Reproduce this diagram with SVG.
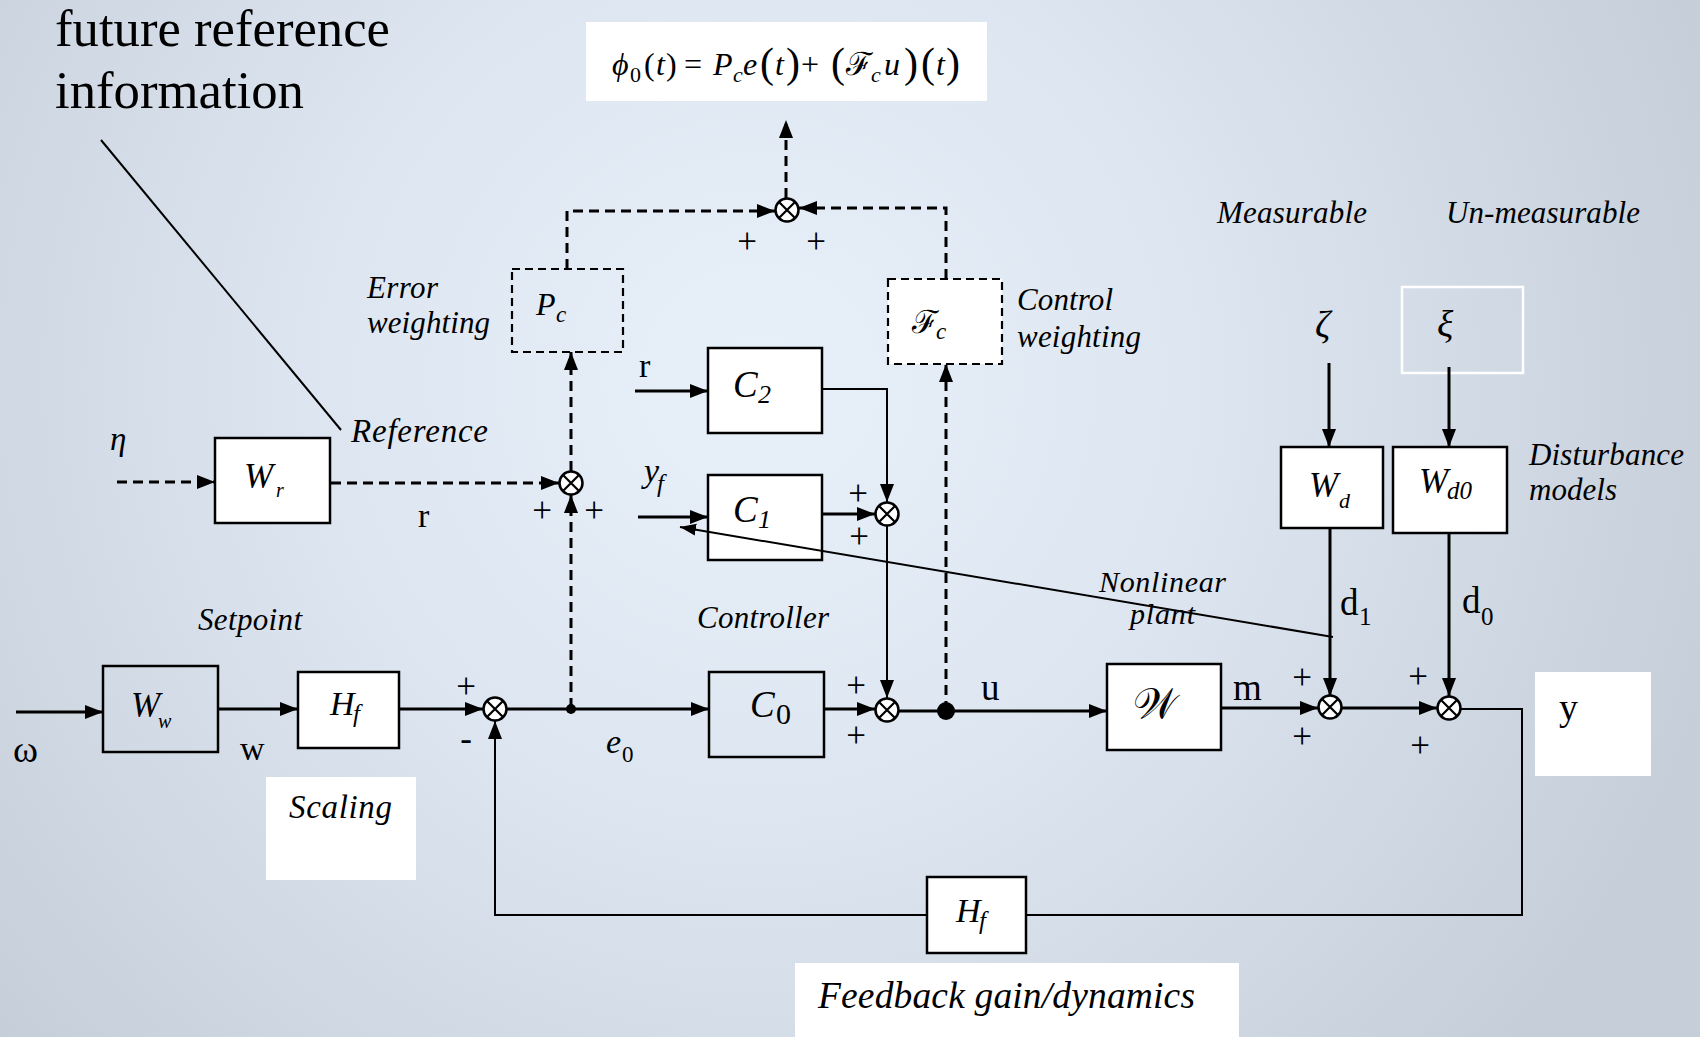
<svg xmlns="http://www.w3.org/2000/svg" xmlns:xlink="http://www.w3.org/1999/xlink" width="1700" height="1037" viewBox="0 0 1700 1037">
  <defs>
    <radialGradient id="bg" gradientUnits="userSpaceOnUse" cx="760" cy="380" r="1000">
      <stop offset="0" stop-color="#e8f0fa"/>
      <stop offset="0.45" stop-color="#dde6f0"/>
      <stop offset="1" stop-color="#c6cfd9"/>
    </radialGradient>
    <marker id="ah" markerUnits="userSpaceOnUse" markerWidth="19" markerHeight="15" refX="18" refY="7" orient="auto">
      <path d="M0,0 L18,7 L0,14 z" fill="#000"/>
    </marker>
    <marker id="ahs" markerUnits="userSpaceOnUse" markerWidth="17" markerHeight="13" refX="16" refY="6" orient="auto">
      <path d="M0,0 L16,6 L0,12 z" fill="#000"/>
    </marker>
    <g id="sumj">
      <circle r="11.5" fill="#fff" stroke="#000" stroke-width="2.5"/>
      <path d="M-8,-8 L8,8 M-8,8 L8,-8" stroke="#000" stroke-width="2.2"/>
    </g>
  </defs>
  <style>
    .t{font-family:"Liberation Serif","Times New Roman",serif;fill:#000}
    .i{font-style:italic}
    .box{fill:#fff;stroke:#000;stroke-width:2.5}
    .box0{fill:none;stroke:#000;stroke-width:2.5}
    .dbox{stroke:#000;stroke-width:2.2;stroke-dasharray:8 5}
    .ln{fill:none;stroke:#000;stroke-width:3}
    .thin{fill:none;stroke:#000;stroke-width:2}
    .dl{fill:none;stroke:#000;stroke-width:3;stroke-dasharray:10 6}
    .sg{font-family:"Liberation Serif","Times New Roman",serif;font-size:35px;text-anchor:middle;fill:#000}
  </style>

  <rect width="1700" height="1037" fill="url(#bg)"/>

  <!-- plain white panels behind some labels -->
  <rect x="586" y="22" width="401" height="79" fill="#fff"/>
  <rect x="266" y="777" width="150" height="103" fill="#fff"/>
  <rect x="1535" y="672" width="116" height="104" fill="#fff"/>
  <rect x="795" y="963" width="444" height="74" fill="#fff"/>
  <rect x="1402" y="287" width="121" height="86" fill="none" stroke="#fff" stroke-width="2.5"/>

  <!-- free-standing labels -->
  <text class="t" x="55" y="46" font-size="52" textLength="335" lengthAdjust="spacingAndGlyphs">future reference</text>
  <text class="t" x="55" y="108" font-size="52" textLength="249" lengthAdjust="spacingAndGlyphs">information</text>

  <g id="formula">
    <text class="t i" font-size="32" x="612" y="75">ϕ</text>
    <text class="t" font-size="22" x="630" y="82">0</text>
    <text class="t" font-size="32" x="644" y="75">(</text>
    <text class="t i" font-size="32" x="656" y="75">t</text>
    <text class="t" font-size="32" x="666" y="75">)</text>
    <text class="t" font-size="32" x="684" y="75">=</text>
    <text class="t i" font-size="32" x="713" y="75">P</text>
    <text class="t i" font-size="22" x="733" y="82">c</text>
    <text class="t i" font-size="32" x="743" y="75">e</text>
    <text class="t" font-size="42" x="760" y="77">(</text>
    <text class="t i" font-size="32" x="775" y="75">t</text>
    <text class="t" font-size="42" x="786" y="77">)</text>
    <text class="t" font-size="32" x="801" y="75">+</text>
    <text class="t" font-size="42" x="831" y="77">(</text>
    <text class="t" font-size="32" x="846" y="75">ℱ</text>
    <text class="t i" font-size="22" x="871" y="82">c</text>
    <text class="t i" font-size="32" x="884" y="75">u</text>
    <text class="t" font-size="42" x="904" y="77">)</text>
    <text class="t" font-size="42" x="921" y="77">(</text>
    <text class="t i" font-size="32" x="936" y="75">t</text>
    <text class="t" font-size="42" x="946" y="77">)</text>
  </g>

  <text class="t i" font-size="31" textLength="71" x="367" y="298">Error</text>
  <text class="t i" font-size="31" textLength="123" x="367" y="333">weighting</text>
  <text class="t i" font-size="31" textLength="96" x="1017" y="310">Control</text>
  <text class="t i" font-size="31" textLength="124" x="1017" y="347">weighting</text>
  <text class="t i" font-size="33" textLength="137" x="351" y="442">Reference</text>
  <text class="t i" font-size="31" textLength="104" x="198" y="630">Setpoint</text>
  <text class="t i" font-size="31" textLength="132" x="697" y="628">Controller</text>
  <text class="t i" font-size="30" textLength="127" x="1099" y="592">Nonlinear</text>
  <text class="t i" font-size="30" textLength="65" x="1130" y="624">plant</text>
  <text class="t i" font-size="31" textLength="150" x="1217" y="223">Measurable</text>
  <text class="t i" font-size="31" textLength="194" x="1446" y="223">Un-measurable</text>
  <text class="t i" font-size="31" textLength="155" x="1529" y="465">Disturbance</text>
  <text class="t i" font-size="31" textLength="88" x="1529" y="500">models</text>
  <text class="t i" font-size="33" textLength="103" x="289" y="818">Scaling</text>
  <text class="t i" font-size="37.5" textLength="377" x="818" y="1008">Feedback gain/dynamics</text>

  <!-- signal names -->
  <text class="t i" font-size="33" x="110" y="450">η</text>
  <text class="t i" font-size="38" x="1315" y="337">ζ</text>
  <text class="t i" font-size="38" x="1437" y="337">ξ</text>
  <text class="t" x="13" y="762" font-size="38">ω</text>
  <text class="t" x="240" y="760" font-size="34">w</text>
  <text class="t" x="418" y="527" font-size="34">r</text>
  <text class="t" x="639" y="377" font-size="34">r</text>
  <text class="t i" font-size="34" x="606" y="753">e</text>
  <text class="t" font-size="23" x="622" y="762">0</text>
  <text class="t i" font-size="34" x="644" y="482">y<tspan x="657" y="492" font-size="25">f</tspan></text>
  <text class="t" x="981" y="700" font-size="37">u</text>
  <text class="t" x="1233" y="700" font-size="37">m</text>
  <text class="t"><tspan x="1340" y="615" font-size="37">d</tspan><tspan x="1359" y="625" font-size="25">1</tspan></text>
  <text class="t"><tspan x="1462" y="613" font-size="37">d</tspan><tspan x="1481" y="625" font-size="25">0</tspan></text>
  <text class="t" x="1559" y="720" font-size="38">y</text>

  <!-- summing-junction signs -->
  <text class="sg" x="747" y="253">+</text>
  <text class="sg" x="816" y="253">+</text>
  <text class="sg" x="542" y="522">+</text>
  <text class="sg" x="594" y="522">+</text>
  <text class="sg" x="466" y="698">+</text>
  <text class="sg" x="466" y="750">-</text>
  <text class="sg" x="858" y="505">+</text>
  <text class="sg" x="859" y="548">+</text>
  <text class="sg" x="856" y="697">+</text>
  <text class="sg" x="856" y="747">+</text>
  <text class="sg" x="1302" y="689">+</text>
  <text class="sg" x="1302" y="748">+</text>
  <text class="sg" x="1418" y="688">+</text>
  <text class="sg" x="1420" y="757">+</text>

  <!-- connectors -->
  <g id="connectors">
    <path class="thin" d="M101,140 L341,430" stroke-width="1.6"/>
    <path class="dl" d="M117,482 H215" marker-end="url(#ah)"/>
    <path class="dl" d="M331,483 H559" marker-end="url(#ah)"/>
    <path class="dl" d="M571,708 V495" marker-end="url(#ah)"/>
    <path class="dl" d="M571,471 V352" marker-end="url(#ah)"/>
    <path class="dl" d="M567,269 V211 H775" marker-end="url(#ah)"/>
    <path class="dl" d="M946,279 V208 H799" marker-end="url(#ah)"/>
    <path class="dl" d="M786,198 V120" marker-end="url(#ah)"/>
    <path class="ln" d="M16,712 H103" marker-end="url(#ah)"/>
    <path class="ln" d="M218,709 H298" marker-end="url(#ah)"/>
    <path class="ln" d="M399,709 H483" marker-end="url(#ah)"/>
    <path class="ln" d="M507,709 H709" marker-end="url(#ah)"/>
    <path class="ln" d="M824,709 H875" marker-end="url(#ah)"/>
    <path class="ln" d="M635,391 H708" marker-end="url(#ah)"/>
    <path class="thin" d="M822,389 H887 V502" marker-end="url(#ah)"/>
    <path class="ln" d="M638,517 H708" marker-end="url(#ah)"/>
    <path class="ln" d="M819,514 H875" marker-end="url(#ah)"/>
    <path class="thin" d="M887,526 V698" stroke-width="2.5" marker-end="url(#ah)"/>
    <path class="ln" d="M899,711 H1107" marker-end="url(#ah)"/>
    <path class="dl" d="M946,711 V364" marker-end="url(#ah)"/>
    <path class="ln" d="M1221,708 H1318" marker-end="url(#ah)"/>
    <path class="ln" d="M1342,708 H1437" marker-end="url(#ah)"/>
    <path class="ln" d="M1330,528 V696" marker-end="url(#ah)"/>
    <path class="ln" d="M1449,533 V696" marker-end="url(#ah)"/>
    <path class="ln" d="M1329,363 V447" marker-end="url(#ah)"/>
    <path class="ln" d="M1449,367 V447" marker-end="url(#ah)"/>
    <path class="thin" d="M1461,709 H1522 V915 H1026" stroke-width="2.5"/>
    <path class="thin" d="M927,915 H495 V721" stroke-width="2.5" marker-end="url(#ah)"/>
    <circle cx="571" cy="709" r="5"/>
    <circle cx="946" cy="711" r="9"/>
  </g>

  <!-- summing junctions -->
  <g id="sum-top"><use xlink:href="#sumj" x="787" y="210"/></g>
  <g id="sum-ref"><use xlink:href="#sumj" x="571" y="483"/></g>
  <g id="sum-err"><use xlink:href="#sumj" x="495" y="709"/></g>
  <g id="sum-c12"><use xlink:href="#sumj" x="887" y="514"/></g>
  <g id="sum-u"><use xlink:href="#sumj" x="887" y="710"/></g>
  <g id="sum-d1"><use xlink:href="#sumj" x="1330" y="707"/></g>
  <g id="sum-d0"><use xlink:href="#sumj" x="1449" y="708"/></g>

  <!-- blocks -->
  <g id="Pc">
    <rect class="dbox" x="512" y="269" width="111" height="83" fill="none"/>
    <text class="t i" font-size="32" x="536" y="315">P<tspan x="556" y="322" font-size="23">c</tspan></text>
  </g>
  <g id="Fc">
    <rect class="dbox" x="888" y="279" width="114" height="85" fill="#fff"/>
    <text class="t" font-size="32" x="912" y="333">ℱ</text>
    <text class="t i" font-size="23" x="936" y="339">c</text>
  </g>
  <g id="Wr">
    <rect class="box" x="215" y="438" width="115" height="85"/>
    <text class="t i" font-size="35" x="244" y="488">W<tspan x="276" y="497" font-size="20">r</tspan></text>
  </g>
  <g id="Ww">
    <rect class="box0" x="103" y="666" width="115" height="86"/>
    <text class="t i" font-size="35" x="131" y="717">W<tspan x="158" y="728" font-size="20">w</tspan></text>
  </g>
  <g id="Hf-ref">
    <rect class="box" x="298" y="672" width="101" height="76"/>
    <text class="t i" font-size="34" x="330" y="715">H<tspan x="353" y="722" font-size="25">f</tspan></text>
  </g>
  <g id="C2">
    <rect class="box" x="708" y="348" width="114" height="85"/>
    <text class="t i" font-size="37" x="733" y="397">C<tspan x="758" y="403" font-size="26">2</tspan></text>
  </g>
  <g id="C1">
    <rect class="box" x="708" y="475" width="114" height="85"/>
    <text class="t i" font-size="37" x="733" y="522">C<tspan x="758" y="528" font-size="26">1</tspan></text>
  </g>
  <g id="C0">
    <rect class="box0" x="709" y="672" width="115" height="85"/>
    <text class="t i" font-size="37" x="750" y="717">C</text>
    <text class="t" font-size="30" x="776" y="724">0</text>
  </g>
  <g id="plant">
    <rect class="box" x="1107" y="664" width="114" height="86"/>
    <text class="t" x="1133" y="718" font-size="42">𝒲</text>
  </g>
  <g id="Wd">
    <rect class="box" x="1281" y="447" width="102" height="81"/>
    <text class="t i" font-size="35" x="1309" y="497">W<tspan x="1339" y="508" font-size="22">d</tspan></text>
  </g>
  <g id="Wd0">
    <rect class="box" x="1393" y="447" width="114" height="86"/>
    <text class="t i" font-size="35" x="1419" y="493">W<tspan x="1447" y="499" font-size="25">d0</tspan></text>
  </g>
  <g id="Hf-fb">
    <rect class="box" x="927" y="877" width="99" height="76"/>
    <text class="t i" font-size="34" x="956" y="922">H<tspan x="979" y="929" font-size="25">f</tspan></text>
  </g>

  <!-- callout from the plant label, drawn over the controller blocks -->
  <g id="plant-callout">
    <path class="thin" d="M1333,637 L680,527" stroke-width="1.8" marker-end="url(#ahs)"/>
  </g>
</svg>
